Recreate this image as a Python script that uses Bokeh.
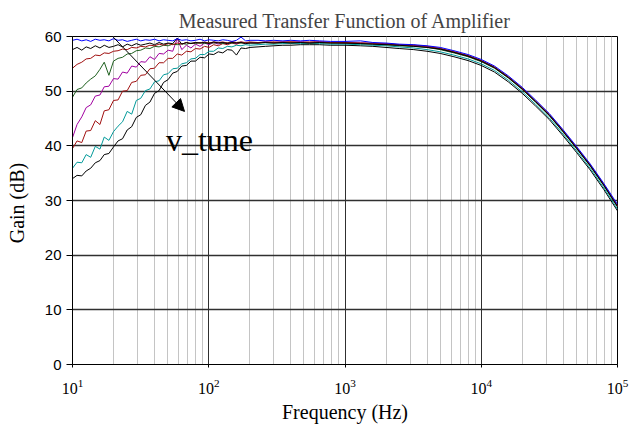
from bokeh.plotting import figure
from bokeh.models import FixedTicker, Label, Arrow, NormalHead
from bokeh.embed import file_html
from bokeh.resources import INLINE

# ---- data ----
freq = [10, 10.8, 11.7, 12.6, 13.6, 14.7, 15.9, 17.1, 18.5, 20, 21.6, 23.3, 25.2, 27.2, 29.4,
        31.7, 34.3, 37, 40, 43.2, 46.6, 50.3, 54.4, 58.7, 63.4, 68.5, 74, 79.9, 86.3, 93.2,
        100.6, 108.7, 117.4, 126.8, 136.9, 147.9, 159.7, 172.5, 186.3, 201,
        230, 260, 300, 350, 400, 470, 550, 650, 780, 1000, 1300, 1600, 2000, 2500, 3200,
        4000, 5000, 6300, 8000, 10000, 12500, 15800, 20000, 25000, 31600, 40000, 50000,
        63000, 79400, 100000]

gain_blue = [59.3, 59.5, 59.2, 59.4, 59.1, 59.5, 59.3, 59.4, 59.2, 59.6, 59.3, 59.4, 59.1, 59.3, 59.5,
             59.2, 59.4, 59.3, 59.5, 59.2, 59.4, 59.3, 59.2, 59.6, 59.3, 59.4, 59.2, 59.3, 59.5, 59.2,
             59.4, 59.3, 59.2, 59.4, 59.3, 59.1, 59.3, 59.9, 59.2, 59.3,
             59.3, 59.2, 59.3, 59.2, 59.3, 59.2, 59.3, 59.2, 59.1, 59.1, 59.2, 58.9, 58.8, 58.6, 58.5,
             58.3, 58.0, 57.4, 56.7, 55.8, 54.6, 52.8, 50.7, 48.4, 45.9, 42.9, 39.9, 36.7, 33.1, 29.3]

gain_black1 = [57.6, 58.0, 57.5, 58.1, 57.8, 58.3, 57.9, 58.4, 58.0, 58.2, 58.5, 58.1, 58.6, 58.3, 58.7,
               58.4, 58.6, 58.8, 58.5, 58.9, 58.6, 58.8, 58.7, 59.7, 58.6, 58.9, 58.7, 58.9, 58.8, 58.9,
               58.7, 59.0, 58.8, 58.9, 58.7, 58.9, 58.8, 58.9, 58.7, 58.8,
               58.8, 58.9, 58.8, 58.9, 58.8, 58.9, 58.8, 58.9, 58.8, 58.8, 58.7, 58.6, 58.5, 58.4, 58.2,
               58.0, 57.7, 57.1, 56.4, 55.5, 54.3, 52.5, 50.4, 48.1, 45.6, 42.6, 39.6, 36.4, 32.8, 28.9]

gain_darkred = [54.2, 54.9, 55.3, 55.9, 56.0, 56.6, 56.5, 57.0, 56.9, 57.3, 57.4, 57.7, 57.6, 58.0, 57.9,
                58.2, 58.1, 58.4, 58.3, 58.6, 58.4, 58.7, 58.5, 58.8, 58.6, 58.9, 58.7, 58.9, 58.8, 59.0,
                58.8, 59.0, 58.9, 59.0, 58.8, 59.1, 58.9, 59.0, 58.9, 59.0,
                58.9, 59.0, 58.9, 59.0, 59.0, 58.9, 59.0, 59.0, 58.9, 58.9, 58.8, 58.8, 58.6, 58.5, 58.4,
                58.2, 57.8, 57.2, 56.5, 55.6, 54.4, 52.6, 50.5, 48.2, 45.7, 42.7, 39.7, 36.5, 32.9, 29.0]

gain_green = [48.9, 50.3, 50.6, 51.5, 52.2, 52.8, 54.0, 55.3, 52.9, 55.5, 56.0, 56.2, 56.8, 56.9, 57.4,
              57.5, 57.9, 57.8, 58.2, 58.1, 58.4, 58.3, 58.6, 58.5, 58.7, 58.6, 58.8, 58.7, 58.9, 58.7,
              58.9, 58.8, 58.9, 58.7, 58.9, 58.8, 58.9, 58.8, 58.9, 58.8,
              58.8, 58.9, 58.8, 58.9, 58.9, 58.9, 58.8, 58.9, 58.8, 58.8, 58.7, 58.6, 58.5, 58.3, 58.2,
              58.0, 57.6, 57.0, 56.3, 55.4, 54.2, 52.4, 50.3, 48.0, 45.5, 42.5, 39.5, 36.3, 32.7, 28.8]

gain_purple = [41.5, 43.9, 45.3, 47.0, 47.5, 49.1, 49.3, 50.8, 50.9, 52.3, 52.2, 53.5, 53.3, 54.6, 54.4,
               55.4, 55.3, 56.3, 55.8, 56.9, 56.8, 57.5, 57.3, 59.6, 57.6, 58.4, 57.9, 58.6, 58.2, 58.8,
               58.5, 58.9, 58.6, 58.9, 58.7, 59.0, 58.7, 59.0, 58.8, 58.9,
               58.8, 59.0, 58.9, 59.0, 58.9, 59.0, 58.9, 59.0, 58.9, 58.8, 58.8, 58.7, 58.6, 58.4, 58.3,
               58.1, 57.7, 57.1, 56.4, 55.5, 54.3, 52.5, 50.4, 48.1, 45.6, 42.6, 39.6, 36.4, 32.8, 28.9]

gain_red = [39.5, 40.9, 40.6, 42.7, 42.8, 44.6, 43.9, 46.4, 46.6, 48.3, 48.4, 50.0, 50.1, 51.6, 51.8,
            52.9, 53.0, 54.1, 54.2, 55.2, 55.2, 56.0, 56.0, 56.8, 56.6, 57.3, 57.2, 57.8, 57.7, 58.2,
            58.0, 58.5, 58.3, 58.7, 58.5, 58.8, 58.6, 58.9, 58.7, 58.9,
            58.9, 58.9, 59.0, 58.9, 59.0, 59.0, 58.9, 59.0, 58.9, 58.9, 58.8, 58.7, 58.7, 58.5, 58.4,
            58.2, 57.8, 57.2, 56.5, 55.6, 54.4, 52.6, 50.5, 48.2, 45.7, 42.7, 39.7, 36.5, 32.9, 29.0]

gain_teal = [35.9, 37.0, 36.9, 38.4, 37.9, 39.9, 39.4, 41.6, 41.0, 42.6, 43.6, 44.4, 46.3, 45.8, 48.3,
             48.7, 50.1, 50.4, 51.7, 51.9, 53.0, 53.2, 54.1, 54.2, 55.0, 55.2, 55.9, 56.0, 56.7, 56.7,
             57.3, 57.3, 57.9, 57.8, 58.2, 58.1, 58.4, 58.3, 58.5, 58.4,
             58.5, 58.6, 58.6, 58.7, 58.7, 58.7, 58.7, 58.7, 58.6, 58.6, 58.5, 58.4, 58.3, 58.1, 57.9,
             57.6, 57.2, 56.6, 55.9, 55.0, 53.8, 52.0, 49.9, 47.6, 45.1, 42.1, 39.1, 35.9, 32.3, 28.4]

gain_black2 = [34.0, 34.6, 34.5, 35.4, 35.9, 36.9, 37.3, 38.4, 38.6, 39.8, 40.9, 41.3, 42.9, 43.5, 45.2,
               45.7, 47.4, 48.0, 49.6, 50.1, 51.6, 52.1, 53.3, 53.6, 54.6, 54.7, 55.5, 55.5, 56.2, 56.1,
               56.8, 56.7, 57.2, 57.0, 57.6, 57.5, 56.6, 57.9, 57.8, 58.0,
               58.1, 58.2, 58.3, 58.4, 58.4, 58.5, 58.5, 58.5, 58.4, 58.4, 58.3, 58.2, 58.0, 57.8, 57.6,
               57.3, 56.9, 56.3, 55.6, 54.7, 53.5, 51.7, 49.6, 47.3, 44.8, 41.8, 38.8, 35.6, 32.0, 28.1]

series = [
    (gain_black2, "#000000"),
    (gain_teal, "#009999"),
    (gain_red, "#A01010"),
    (gain_purple, "#A000A0"),
    (gain_green, "#1F601F"),
    (gain_darkred, "#A01010"),
    (gain_black1, "#000000"),
    (gain_blue, "#0000FF"),
]

x_major = [10, 100, 1000, 10000, 100000]
y_major = [0, 10, 20, 30, 40, 50, 60]
title_text = "Measured Transfer Function of Amplifier"
x_label = "Frequency (Hz)"
y_label = "Gain  (dB)"
annot_text = "v_tune"
arrow_from = (18.7, 60.6)
arrow_to = (66.4, 46.3)
annot_pos = (48.5, 41.0)

SERIF = "Liberation Serif"
SANS = "Liberation Sans"

p = figure(width=630, height=428, x_axis_type="log", x_range=(10, 100000), y_range=(0, 60),
           output_backend="svg", toolbar_location=None,
           min_border_left=72, min_border_right=13, min_border_top=36, min_border_bottom=64)

p.title.text = title_text
p.title.align = "center"
p.title.text_font = SERIF
p.title.text_font_size = "20px"
p.title.text_font_style = "normal"
p.title.standoff = 10

minor = [m * d for d in x_major[:-1] for m in range(2, 10)]
p.xaxis.ticker = FixedTicker(ticks=x_major, minor_ticks=minor)
p.yaxis.ticker = FixedTicker(ticks=y_major)

p.xgrid.grid_line_color = "#303030"
p.xgrid.grid_line_width = 1
p.xgrid.minor_grid_line_color = "#c4c4c4"
p.xgrid.minor_grid_line_width = 1
p.ygrid.grid_line_color = "#303030"
p.ygrid.grid_line_width = 1.3

p.outline_line_color = "#000000"
p.outline_line_width = 1

for ax in (p.xaxis, p.yaxis):
    ax.axis_line_color = "#000000"
    ax.minor_tick_line_color = None
    ax.major_tick_line_color = "#000000"
    ax.major_tick_in = 0

p.yaxis.major_tick_out = 6
p.xaxis.major_tick_out = 3
p.yaxis.major_label_text_font = SANS
p.yaxis.major_label_text_font_size = "15px"
p.yaxis.major_label_text_color = "#000000"
p.yaxis.major_label_standoff = 5
p.xaxis.major_label_text_font = SERIF
p.xaxis.major_label_text_font_size = "16px"
p.xaxis.major_label_text_color = "#000000"
p.xaxis.major_label_standoff = 10

p.xaxis.axis_label = x_label
p.yaxis.axis_label = y_label
for ax in (p.xaxis, p.yaxis):
    ax.axis_label_text_font = SERIF
    ax.axis_label_text_font_size = "20px"
    ax.axis_label_text_font_style = "normal"
    ax.axis_label_text_color = "#000000"
p.xaxis.axis_label_standoff = 4
p.yaxis.axis_label_standoff = 14

for g, c in series:
    p.line(freq, g, line_color=c, line_width=1)

p.add_layout(Arrow(end=NormalHead(size=12, fill_color="black", line_color="black"),
                   x_start=arrow_from[0], y_start=arrow_from[1],
                   x_end=arrow_to[0], y_end=arrow_to[1],
                   line_color="black", line_width=1))
p.add_layout(Label(x=annot_pos[0], y=annot_pos[1], text=annot_text,
                   text_font=SERIF, text_font_size="32px", text_color="black",
                   text_baseline="alphabetic"))

open("out.html", "w").write(file_html(p, INLINE))
